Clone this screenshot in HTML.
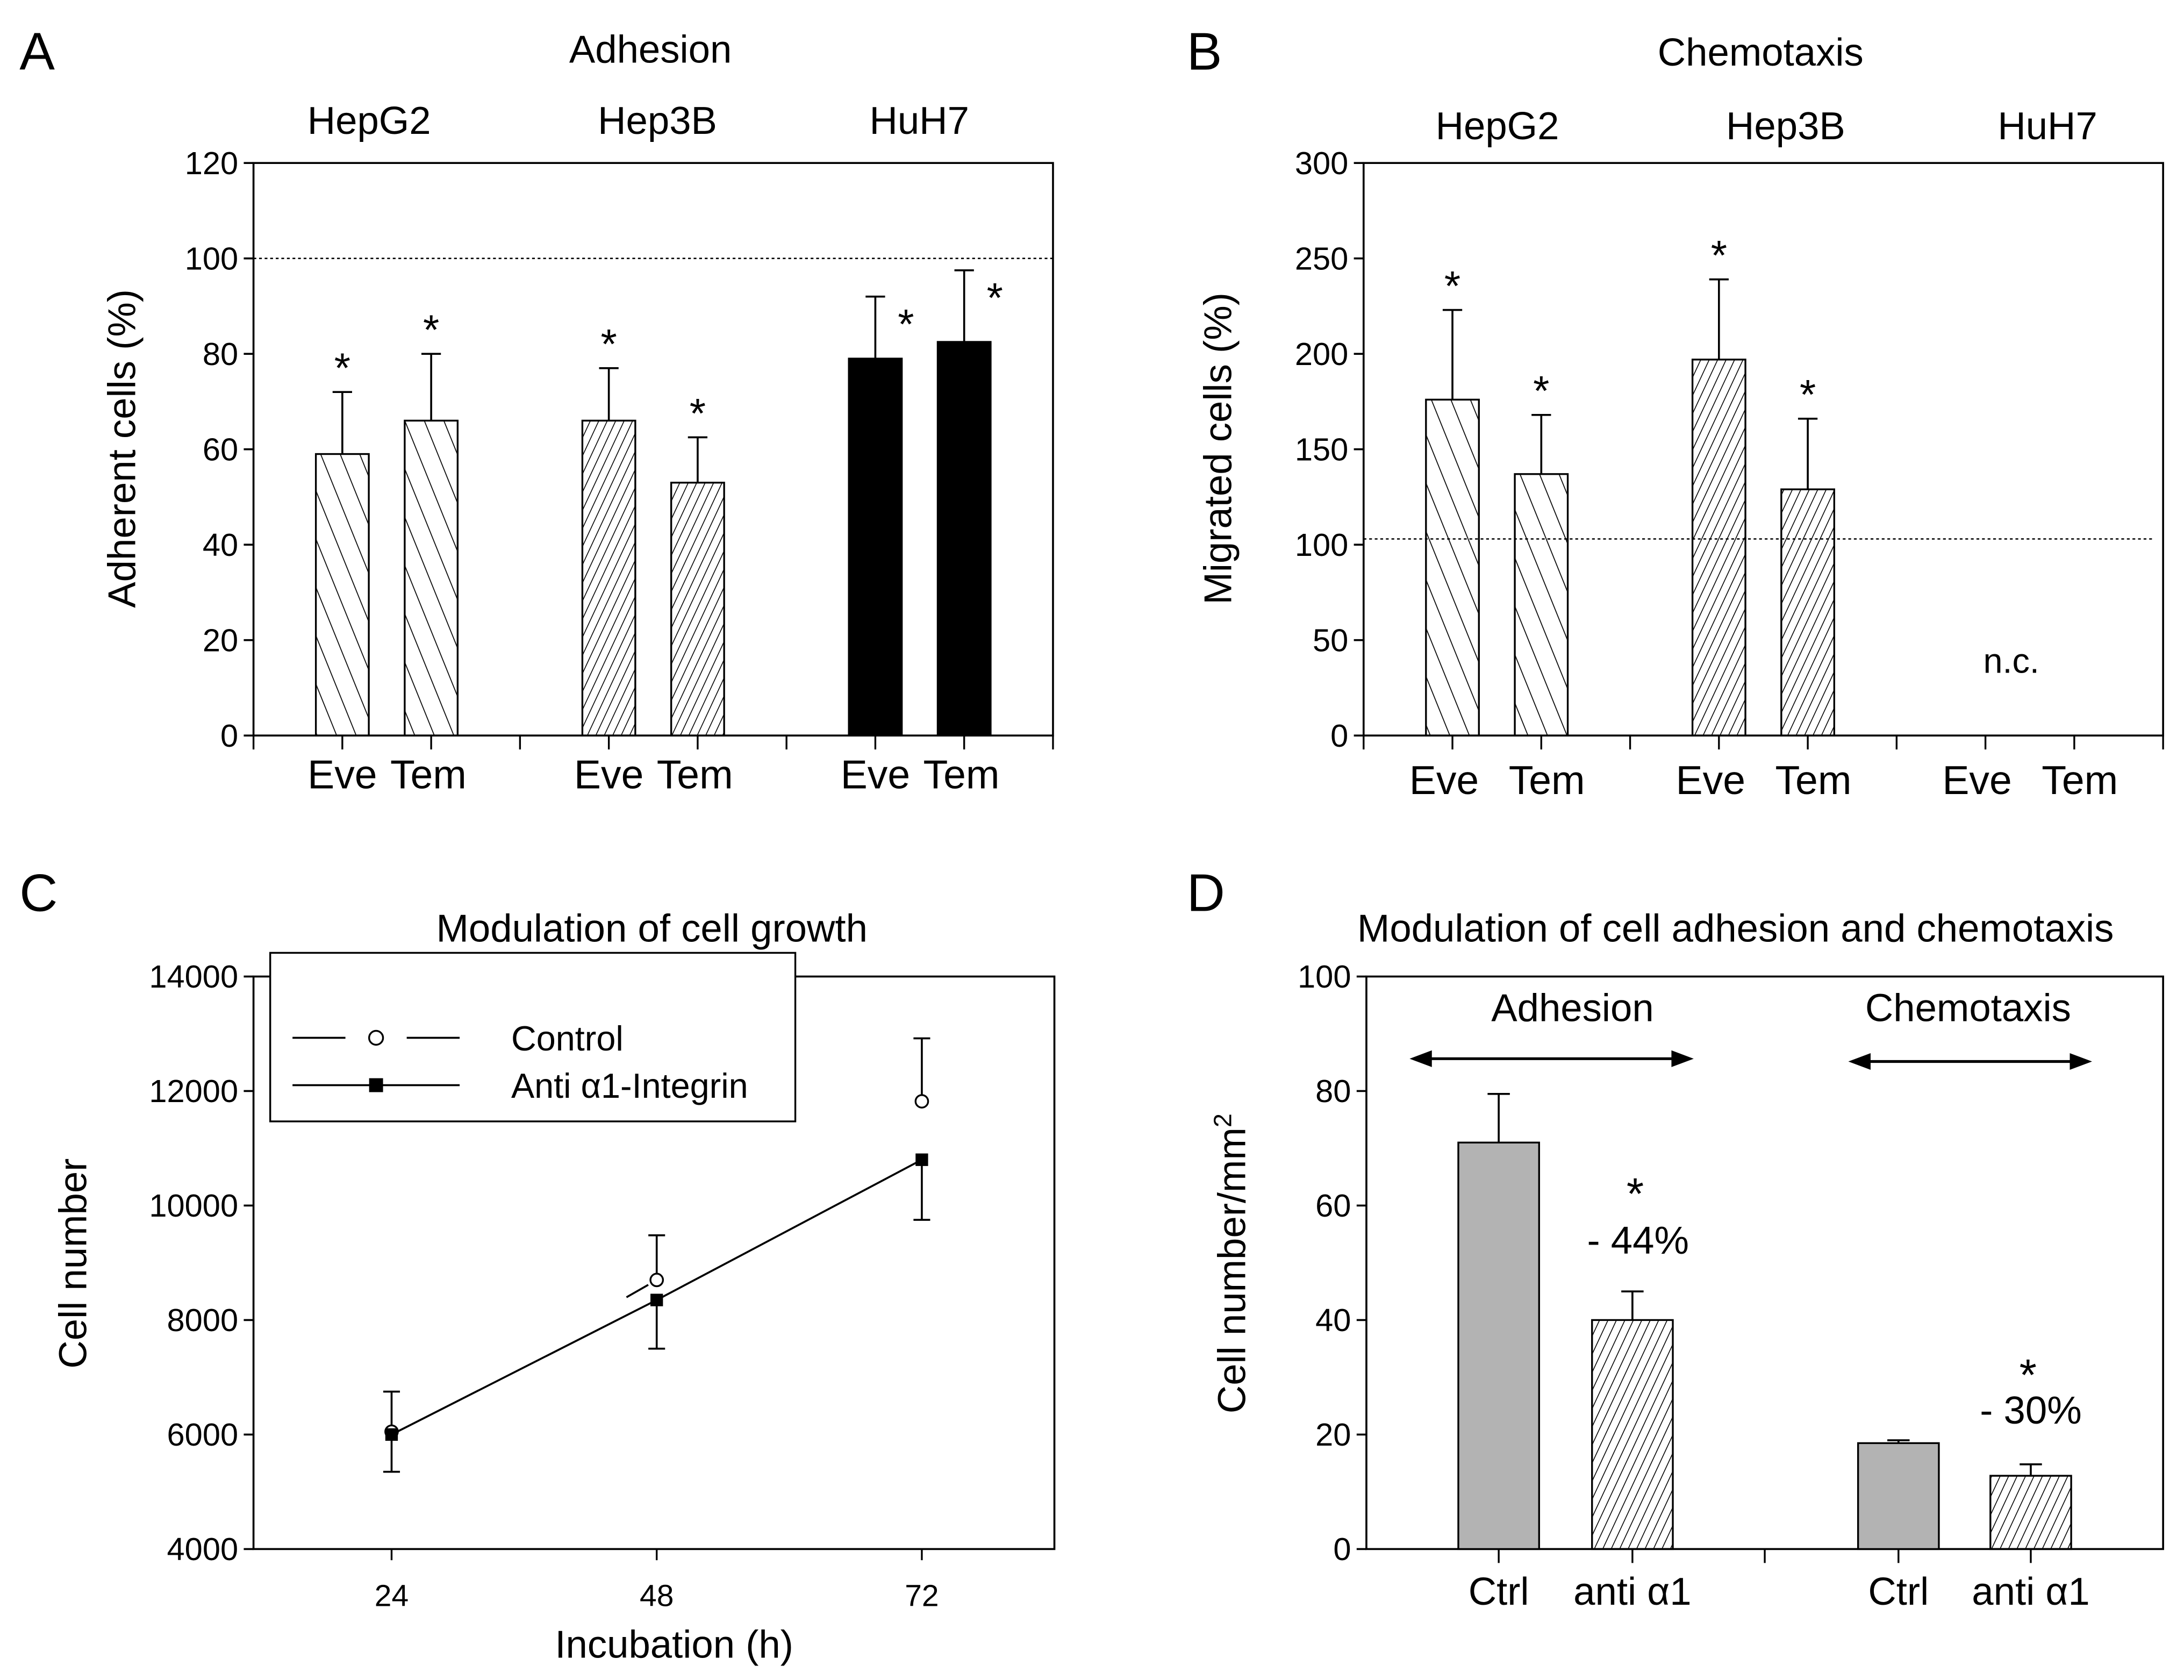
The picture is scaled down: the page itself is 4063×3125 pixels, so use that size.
<!DOCTYPE html>
<html><head><meta charset="utf-8"><style>
html,body{margin:0;padding:0;background:#fff;}
svg{display:block;font-family:"Liberation Sans",sans-serif;}
</style></head><body>
<svg id="fig" width="4063" height="3125" viewBox="0 0 1568 1206" xmlns="http://www.w3.org/2000/svg">
<defs>
<pattern id="hatchWide" patternUnits="userSpaceOnUse" width="13" height="13" patternTransform="rotate(-22)">
<line x1="0" y1="0" x2="0" y2="13" stroke="#000" stroke-width="1.3"/>
</pattern>
<pattern id="hatchDense" patternUnits="userSpaceOnUse" width="5.5" height="5.5" patternTransform="rotate(25)">
<line x1="0" y1="0" x2="0" y2="5.5" stroke="#000" stroke-width="1.2"/>
</pattern>
</defs>
<g id="root"></g>
</svg>
<script>
// ===== Panel A data =====
const aCats = ["Eve","Tem","Eve","Tem","Eve","Tem"];
const aVals = [59, 66, 66, 53, 79, 82.5];
const aErrs = [72, 80, 77, 62.5, 92, 97.5];
const aTicks = [0,20,40,60,80,100,120];
// ===== Panel B data =====
const bCats = ["Eve","Tem","Eve","Tem","Eve","Tem"];
const bVals = [176, 137, 197, 129];
const bErrs = [223, 168, 239, 166];
const bTicks = [0,50,100,150,200,250,300];
const bRef = 103;
// ===== Panel C data =====
const cX = [24, 48, 72];
const cControl = [6050, 8700, 11820];
const cControlErr = [6750, 9480, 12920];
const cAnti = [6000, 8350, 10800];
const cAntiErr = [5350, 7500, 9750];
const cYTicks = [4000,6000,8000,10000,12000,14000];
const cXTicks = [24,48,72];
// ===== Panel D data =====
const dCats = ["Ctrl","anti \u03b11","Ctrl","anti \u03b11"];
const dVals = [71, 40, 18.5, 12.8];
const dErrs = [79.5, 45, 19, 14.8];
const dTicks = [0,20,40,60,80,100];

const NS="http://www.w3.org/2000/svg";
const root=document.getElementById('root');
function mk(tag,attrs,parent,text){const e=document.createElementNS(NS,tag);for(const k in attrs)e.setAttribute(k,attrs[k]);if(text!==undefined)e.textContent=text;(parent||root).appendChild(e);return e;}
function txt(x,y,s,size,anchor,name,extra){const t=mk('text',Object.assign({x:x,y:y,'font-size':size,'text-anchor':anchor||'middle',fill:'#000'},extra||{}),root,s);


return t;}

function yScale(v,min,max,top,bot){return bot-(v-min)/(max-min)*(bot-top);}

function box(x0,x1,top,bot,name){const r=mk('rect',{x:x0,y:top,width:x1-x0,height:bot-top,fill:'none',stroke:'#000','stroke-width':1.4});

}

function yAxisTicks(ticks,min,max,x0,top,bot,name){ticks.forEach(v=>{const y=yScale(v,min,max,top,bot);
const l=mk('line',{x1:x0-7,x2:x0,y1:y,y2:y,stroke:'#000','stroke-width':1.4});


txt(x0-11,y+8,String(v),23,'end',name+'-tick-label');});}

function errBar(cx,y0,y1,cap,name){const g=mk('g',{stroke:'#000','stroke-width':1.4});


mk('line',{x1:cx,x2:cx,y1:y0,y2:y1},g);mk('line',{x1:cx-cap/2,x2:cx+cap/2,y1:y1,y2:y1},g);}

function bar(cx,w,v,min,max,top,bot,fill,name){const y=yScale(v,min,max,top,bot);
const r=mk('rect',{x:cx-w/2,y:y,width:w,height:bot-y,fill:fill,stroke:'#000','stroke-width':1.3});

return y;}

// ---------- Panel A ----------
(function(){
const x0=182,x1=756,top=117,bot=528,min=0,max=120,step=(x1-x0)/9;
txt(14,50,'A',38,'start','panel-a-letter');
txt(467,45,'Adhesion',28,'middle','panel-a-title');
txt(265,96,'HepG2',28,'middle','group-label-hepg2');
txt(472,96,'Hep3B',28,'middle','group-label-hep3b');
txt(660,96,'HuH7',28,'middle','group-label-huh7');
txt(0,0,'Adherent cells (%)',28,'middle','y-axis-title',{transform:'translate(97,322) rotate(-90)'});
box(x0,x1,top,bot,'panel-a-frame');
yAxisTicks(aTicks,min,max,x0,top,bot,'panel-a-y');
const ry=yScale(100,min,max,top,bot);
const dl=mk('line',{x1:x0,x2:x1,y1:ry,y2:ry,stroke:'#000','stroke-width':1,'stroke-dasharray':'2 2'});


const pos=[1,2,4,5,7,8];
const fills=['url(#hatchWide)','url(#hatchWide)','url(#hatchDense)','url(#hatchDense)','#000','#000'];
for(let i=0;i<=9;i++){const x=x0+i*step;const l=mk('line',{x1:x,x2:x,y1:bot,y2:bot+10,stroke:'#000','stroke-width':1.3});

}
aVals.forEach((v,i)=>{const cx=x0+pos[i]*step;
bar(cx,38,v,min,max,top,bot,fills[i],'panel-a-bar-'+i);
const yv=yScale(v,min,max,top,bot),ye=yScale(aErrs[i],min,max,top,bot);
errBar(cx,yv,ye,14,'panel-a-error-'+i);
if(i>=4)txt(cx+22,ye+30,'*',30,'middle','panel-a-asterisk-'+i);else txt(cx,ye-7,'*',30,'middle','panel-a-asterisk-'+i);
txt(cx+(i%2?-2:0),566,aCats[i],29,'middle','panel-a-category-'+i);});
})();

// ---------- Panel B ----------
(function(){
const x0=979,x1=1553,top=117,bot=528,min=0,max=300,step=(x1-x0)/9;
txt(852,50,'B',38,'start','panel-b-letter');
txt(1264,47,'Chemotaxis',28,'middle','panel-b-title');
txt(1075,100,'HepG2',28,'middle','group-label-hepg2-b');
txt(1282,100,'Hep3B',28,'middle','group-label-hep3b-b');
txt(1470,100,'HuH7',28,'middle','group-label-huh7-b');
txt(0,0,'Migrated cells (%)',28,'middle','y-axis-title-b',{transform:'translate(884,322) rotate(-90)'});
box(x0,x1,top,bot,'panel-b-frame');
yAxisTicks(bTicks,min,max,x0,top,bot,'panel-b-y');
const ry=yScale(bRef,min,max,top,bot);
const dl=mk('line',{x1:x0,x2:x1-6,y1:ry,y2:ry,stroke:'#000','stroke-width':1,'stroke-dasharray':'2 2'});


const pos=[1,2,4,5,7,8];
const fills=['url(#hatchWide)','url(#hatchWide)','url(#hatchDense)','url(#hatchDense)'];
for(let i=0;i<=9;i++){const x=x0+i*step;const l=mk('line',{x1:x,x2:x,y1:bot,y2:bot+10,stroke:'#000','stroke-width':1.3});

}
bVals.forEach((v,i)=>{const cx=x0+pos[i]*step;
bar(cx,38,v,min,max,top,bot,fills[i],'panel-b-bar-'+i);
const yv=yScale(v,min,max,top,bot),ye=yScale(bErrs[i],min,max,top,bot);
errBar(cx,yv,ye,14,'panel-b-error-'+i);
txt(cx,ye-7,'*',30,'middle','panel-b-asterisk-'+i);});
bCats.forEach((c,i)=>{const cx=x0+pos[i]*step;txt(cx+(i%2?4:-6),570,c,29,'middle','panel-b-category-'+i);});
txt(1444,483,'n.c.',25,'middle','panel-b-not-calculated');
})();

// ---------- Panel C ----------
(function(){
const x0=182,x1=757,top=701,bot=1112,min=4000,max=14000,xmin=11.5,xmax=84;
const xs=v=>x0+(v-xmin)/(xmax-xmin)*(x1-x0);
const ys=v=>yScale(v,min,max,top,bot);
txt(14,654,'C',38,'start','panel-c-letter');
txt(468,676,'Modulation of cell growth',28,'middle','panel-c-title');
txt(0,0,'Cell number',28,'middle','y-axis-title-c',{transform:'translate(62,907) rotate(-90)'});
txt(484,1190,'Incubation (h)',28,'middle','x-axis-title-c');
box(x0,x1,top,bot,'panel-c-frame');
yAxisTicks(cYTicks,min,max,x0,top,bot,'panel-c-y');
cXTicks.forEach(v=>{const x=xs(v);const l=mk('line',{x1:x,x2:x,y1:bot,y2:bot+8,stroke:'#000','stroke-width':1.3});


txt(x,1153,String(v),22,'middle','panel-c-x-tick-label');});
const pts=cX.map((v,i)=>xs(v)+','+ys(cAnti[i])).join(' ');
const pl=mk('polyline',{points:pts,fill:'none',stroke:'#000','stroke-width':1.4});


const ax=xs(cX[0]),ay=ys(cControl[0]),bx=xs(cX[1]),by=ys(cControl[1]);
const len=Math.hypot(bx-ax,by-ay);
const cl=mk('line',{x1:ax,y1:ay,x2:bx,y2:by,stroke:'#000','stroke-width':1.4,'stroke-dasharray':'0 '+(len-25)+' 18 100'});


cX.forEach((v,i)=>{const x=xs(v);
errBar(x,ys(cControl[i]),ys(cControlErr[i]),12,'control-error-'+i);
errBar(x,ys(cAnti[i]),ys(cAntiErr[i]),12,'anti-error-'+i);});
cX.forEach((v,i)=>{const x=xs(v);
const c=mk('circle',{cx:x,cy:ys(cControl[i]),r:4.5,fill:'#fff',stroke:'#000','stroke-width':1.3});


const s=mk('rect',{x:x-4.5,y:ys(cAnti[i])-4.5,width:9,height:9,fill:'#000'});

});
const lg=mk('g',{});


mk('rect',{x:194,y:684,width:377,height:121,fill:'#fff',stroke:'#000','stroke-width':1.3},lg);
mk('line',{x1:210,x2:248,y1:745,y2:745,stroke:'#000','stroke-width':1.4},lg);
mk('line',{x1:292,x2:330,y1:745,y2:745,stroke:'#000','stroke-width':1.4},lg);
mk('circle',{cx:270,cy:745,r:5,fill:'#fff',stroke:'#000','stroke-width':1.3},lg);
mk('line',{x1:210,x2:330,y1:779,y2:779,stroke:'#000','stroke-width':1.4},lg);
mk('rect',{x:265,y:774,width:10,height:10,fill:'#000'},lg);
txt(367,754,'Control',25,'start','legend-entry-control');
txt(367,788,'Anti \u03b11-Integrin',25,'start','legend-entry-anti-integrin');
})();

// ---------- Panel D ----------
(function(){
const x0=981,x1=1553,top=701,bot=1112,min=0,max=100;
const centers=[1076,1172,1363,1458];
const ticksX=[1076,1172,1267,1363,1458];
txt(852,654,'D',38,'start','panel-d-letter');
txt(1246,676,'Modulation of cell adhesion and chemotaxis',28,'middle','panel-d-title');
const t=txt(0,0,'Cell number/mm',28,'middle','y-axis-title-d',{transform:'translate(894,907) rotate(-90)'});
mk('tspan',{dy:-10,'font-size':18},t,'2');
box(x0,x1,top,bot,'panel-d-frame');
yAxisTicks(dTicks,min,max,x0,top,bot,'panel-d-y');
ticksX.forEach(x=>{const l=mk('line',{x1:x,x2:x,y1:bot,y2:bot+10,stroke:'#000','stroke-width':1.3});

});
const fills=['#b3b3b3','url(#hatchDense)','#b3b3b3','url(#hatchDense)'];
dVals.forEach((v,i)=>{const cx=centers[i];
bar(cx,58,v,min,max,top,bot,fills[i],'panel-d-bar-'+i);
errBar(cx,yScale(v,min,max,top,bot),yScale(dErrs[i],min,max,top,bot),16,'panel-d-error-'+i);
txt(cx,1152,dCats[i],28,'middle','panel-d-category-'+i);});
txt(1129,733,'Adhesion',28,'middle','adhesion-label');
txt(1413,733,'Chemotaxis',28,'middle','chemotaxis-label');
function arrow(xa,xb,y,name){const g=mk('g',{});


mk('line',{x1:xa+10,x2:xb-10,y1:y,y2:y,stroke:'#000','stroke-width':2},g);
mk('polygon',{points:`${xa},${y} ${xa+16},${y-6} ${xa+16},${y+6}`,fill:'#000'},g);
mk('polygon',{points:`${xb},${y} ${xb-16},${y-6} ${xb-16},${y+6}`,fill:'#000'},g);}
arrow(1012,1216,760,'adhesion-arrow');
arrow(1327,1502,762,'chemotaxis-arrow');
txt(1174,868,'*',32,'middle','adhesion-asterisk');
txt(1176,900,'- 44%',28,'middle','adhesion-reduction');
txt(1456,998,'*',32,'middle','chemotaxis-asterisk');
txt(1458,1022,'- 30%',28,'middle','chemotaxis-reduction');
})();
</script>
</body></html>
